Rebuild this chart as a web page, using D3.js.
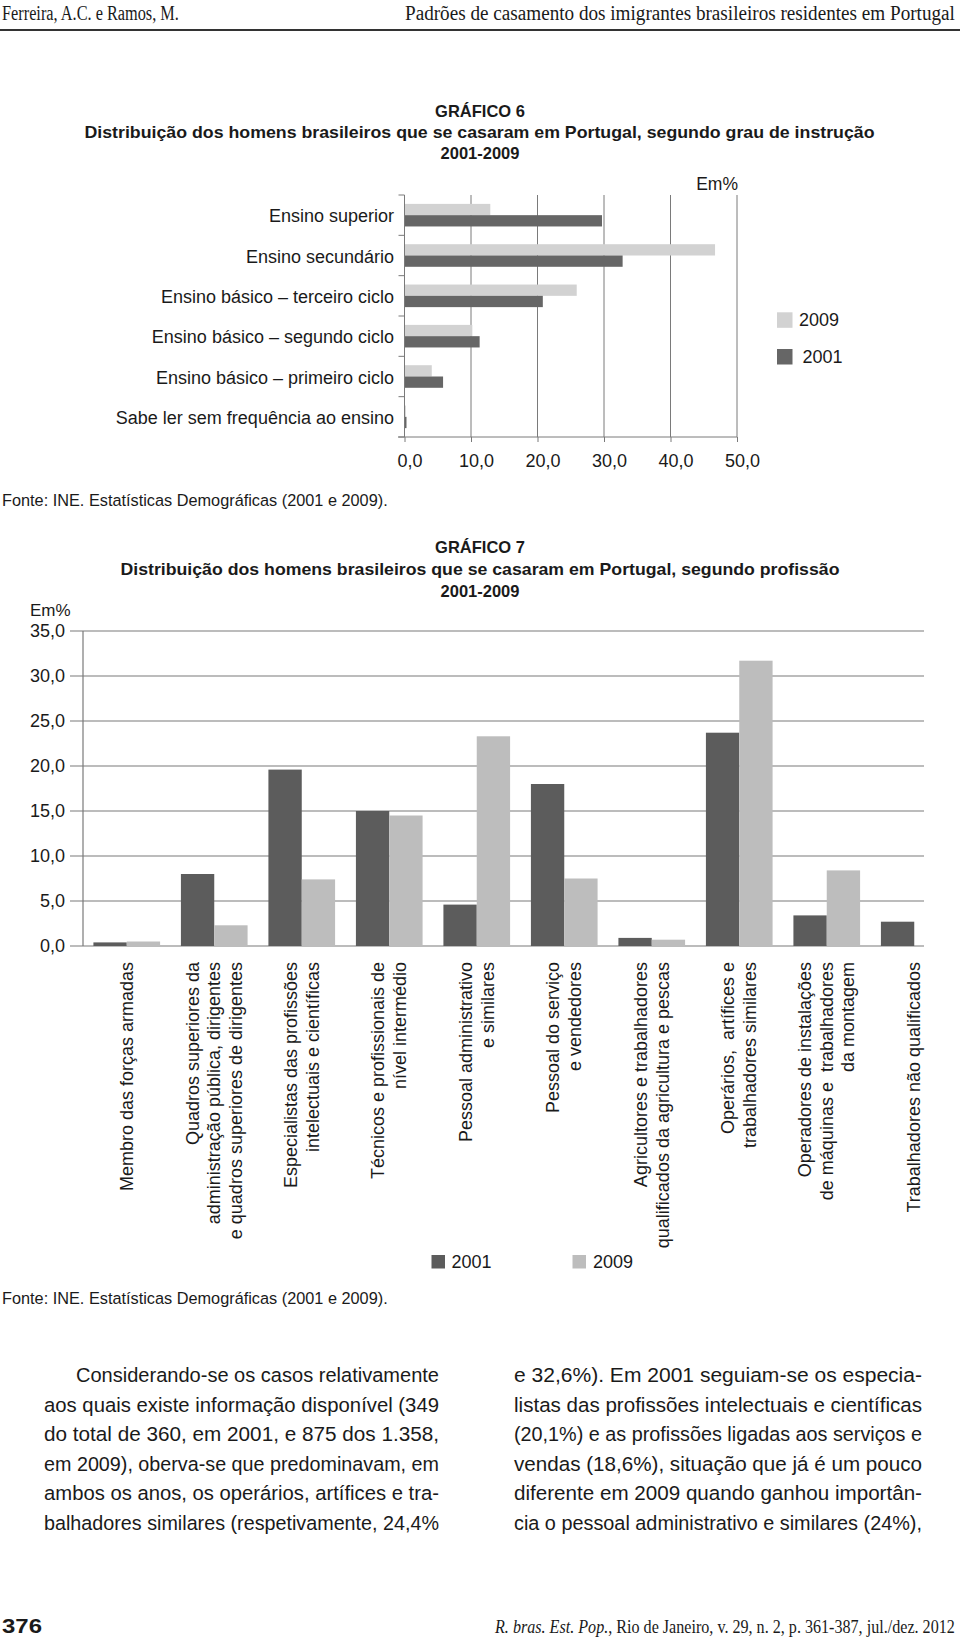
<!DOCTYPE html>
<html>
<head>
<meta charset="utf-8">
<script src="https://cdn.jsdelivr.net/npm/d3@7"></script>
<style>
  body { margin: 0; background: #fff; }
  svg text { font-family: "Liberation Sans", Arial, Helvetica, sans-serif; fill: #1a1a1a; }
  .serif { font-family: "Liberation Serif", "Times New Roman", serif; }
</style>
</head>
<body>
<svg id="page" width="960" height="1641"></svg>
<script>
// GRAFICO 6 - grau de instrucao
var eduCategories = ['Ensino superior', 'Ensino secundário', 'Ensino básico – terceiro ciclo',
    'Ensino básico – segundo ciclo', 'Ensino básico – primeiro ciclo', 'Sabe ler sem frequência ao ensino'];
var edu2009 = [12.9, 46.7, 25.9, 10.2, 4.1, 0.2];
var edu2001 = [29.7, 32.8, 20.8, 11.3, 5.8, 0.3];
var eduTicks = [0, 10, 20, 30, 40, 50];

// GRAFICO 7 - profissao (one entry per label line)
var profCategories = [
    ['Membro das forças armadas'],
    ['Quadros superiores da', 'administração pública, dirigentes', 'e quadros superiores de dirigentes'],
    ['Especialistas das profissões', 'intelectuais e científicas'],
    ['Técnicos e profissionais de', 'nível intermédio'],
    ['Pessoal administrativo', 'e similares'],
    ['Pessoal do serviço', 'e vendedores'],
    ['Agricultores e trabalhadores', 'qualificados da agricultura e pescas'],
    ['Operários,  artífices e', 'trabalhadores similares'],
    ['Operadores de instalações', 'de máquinas e  trabalhadores', 'da montagem'],
    ['Trabalhadores não qualificados']
];
var prof2001 = [0.4, 8.0, 19.6, 15.0, 4.6, 18.0, 0.9, 23.7, 3.4, 2.7];
var prof2009 = [0.5, 2.3, 7.4, 14.5, 23.3, 7.5, 0.7, 31.7, 8.4, null];
var profTicks = [0, 5, 10, 15, 20, 25, 30, 35];

var years = ['2001', '2009'];

var paraLeft = [
    'Considerando-se os casos relativamente',
    'aos quais existe informação disponível (349',
    'do total de 360, em 2001, e 875 dos 1.358,',
    'em 2009), oberva-se que predominavam, em',
    'ambos os anos, os operários, artífices e tra-',
    'balhadores similares (respetivamente, 24,4%'
];
var paraRight = [
    'e 32,6%). Em 2001 seguiam-se os especia-',
    'listas das profissões intelectuais e científicas',
    '(20,1%) e as profissões ligadas aos serviços e',
    'vendas (18,6%), situação que já é um pouco',
    'diferente em 2009 quando ganhou importân-',
    'cia o pessoal administrativo e similares (24%),'
];

var fmt = function(d){ return d3.format('.1f')(d).replace('.', ','); };
var colors6 = {'2009': '#d2d2d2', '2001': '#666666'};
var colors7 = {'2001': '#5c5c5c', '2009': '#bdbdbd'};
var gridColor = '#7a7a7a';

var svg = d3.select('#page');
svg.append('rect').attr('width', 960).attr('height', 1641).attr('fill', '#fff');

// squeeze a start-anchored text horizontally so it spans [x, x + width]
function fit(t, x, y, width){
    var w = t.node().getComputedTextLength();
    t.attr('x', 0).attr('y', 0)
        .attr('transform', 'translate(' + x + ',' + y + ') scale(' + (width / w) + ',1)');
    return t;
}

// page header
fit(svg.append('text').attr('class', 'serif').attr('font-size', 20)
    .text('Ferreira, A.C. e Ramos, M.'), 2, 20, 177);
fit(svg.append('text').attr('class', 'serif').attr('font-size', 20)
    .text('Padrões de casamento dos imigrantes brasileiros residentes em Portugal'), 405, 20, 550);
svg.append('line')
    .attr('x1', 0).attr('x2', 960).attr('y1', 30).attr('y2', 30)
    .attr('stroke', '#333').attr('stroke-width', 2);

function title(lines, ys, widths){
    lines.forEach(function(t, i){
        var el = svg.append('text')
            .attr('font-size', 16.5).attr('font-weight', 'bold')
            .text(t);
        if(widths[i]){
            fit(el, 480 - widths[i] / 2, ys[i], widths[i]);
        } else {
            el.attr('x', 480).attr('y', ys[i]).style('text-anchor', 'middle');
        }
    });
}

function fonte(y){
    fit(svg.append('text').attr('font-size', 17)
        .text('Fonte: INE. Estatísticas Demográficas (2001 e 2009).'), 2, y, 386);
}

// ---------- GRAFICO 6 ----------
title(['GRÁFICO 6',
    'Distribuição dos homens brasileiros que se casaram em Portugal, segundo grau de instrução',
    '2001-2009'], [117, 138, 159], [0, 791, 0]);

var x6 = d3.scaleLinear().domain([0, 50]).range([404.5, 737]);
var y6 = d3.scaleBand().domain(eduCategories).range([195, 437])
    .paddingInner(0.44).paddingOuter(0.22);
var sub6 = d3.scaleBand().domain(['2009', '2001']).range([0, y6.bandwidth()]);

var g6 = svg.append('g');

// vertical gridlines
g6.selectAll('.grid6').data(eduTicks.slice(1)).enter()
    .append('line')
        .attr('x1', function(d){ return x6(d); }).attr('x2', function(d){ return x6(d); })
        .attr('y1', 195).attr('y2', 437)
        .attr('stroke', gridColor).attr('stroke-width', 1);

var edu = eduCategories.map(function(c, i){
    return {cat: c, values: [{year: '2009', v: edu2009[i]}, {year: '2001', v: edu2001[i]}]};
});
g6.selectAll('.cat6').data(edu).enter()
    .append('g')
        .attr('transform', function(d){ return 'translate(0,' + y6(d.cat) + ')'; })
    .selectAll('rect').data(function(d){ return d.values; }).enter()
    .append('rect')
        .attr('x', x6(0))
        .attr('y', function(d){ return sub6(d.year); })
        .attr('width', function(d){ return x6(d.v) - x6(0); })
        .attr('height', sub6.bandwidth())
        .attr('fill', function(d){ return colors6[d.year]; });

// x axis with ticks below
var ax6 = g6.append('g')
    .attr('transform', 'translate(0,437)')
    .call(d3.axisBottom(x6).tickValues(eduTicks).tickSize(5).tickSizeOuter(0).tickFormat(fmt));
ax6.select('.domain').remove();
ax6.selectAll('.tick line').attr('stroke', gridColor);
ax6.selectAll('.tick text')
    .attr('font-size', 18).attr('dx', 5).attr('y', 17)
    .attr('fill', '#1a1a1a').style('font-family', '"Liberation Sans", Arial, sans-serif');
g6.append('line')
    .attr('x1', 398).attr('x2', x6(50)).attr('y1', 437).attr('y2', 437)
    .attr('stroke', gridColor);

// y axis with category boundary ticks
g6.append('line')
    .attr('x1', x6(0)).attr('x2', x6(0)).attr('y1', 195).attr('y2', 437)
    .attr('stroke', gridColor);
var bounds6 = d3.range(eduCategories.length + 1).map(function(i){ return 195 + i * y6.step(); });
g6.selectAll('.btick').data(bounds6).enter()
    .append('line')
        .attr('x1', x6(0) - 6).attr('x2', x6(0))
        .attr('y1', function(d){ return d; }).attr('y2', function(d){ return d; })
        .attr('stroke', gridColor);

g6.selectAll('.lab6').data(eduCategories).enter()
    .append('text')
        .attr('x', 394)
        .attr('y', function(d){ return y6(d) + y6.bandwidth() / 2 + 1; })
        .attr('font-size', 18)
        .attr('dominant-baseline', 'central')
        .style('text-anchor', 'end')
        .text(function(d){ return d; });

svg.append('text')
    .attr('x', 738).attr('y', 190).attr('font-size', 17.5)
    .style('text-anchor', 'end').text('Em%');

// legend 6
var leg6 = svg.append('g');
[['2009', 312.3, 799], ['2001', 349, 802.5]].forEach(function(l){
    leg6.append('rect')
        .attr('x', 777).attr('y', l[1]).attr('width', 15.5).attr('height', 15.5)
        .attr('fill', colors6[l[0]]);
    leg6.append('text')
        .attr('x', l[2]).attr('y', l[1] + 8).attr('font-size', 18)
        .attr('dominant-baseline', 'central').text(l[0]);
});

fonte(506);

// ---------- GRAFICO 7 ----------
title(['GRÁFICO 7',
    'Distribuição dos homens brasileiros que se casaram em Portugal, segundo profissão',
    '2001-2009'], [553, 575, 597], [0, 719, 0]);

var y7 = d3.scaleLinear().domain([0, 35]).range([946, 631]);
var x7 = d3.scaleBand().domain(d3.range(profCategories.length)).range([83, 958])
    .paddingInner(0.238).paddingOuter(0.119);
var sub7 = d3.scaleBand().domain(years).range([0, x7.bandwidth()]);

var g7 = svg.append('g');

g7.selectAll('.grid7').data(profTicks).enter()
    .append('line')
        .attr('x1', 70).attr('x2', 924)
        .attr('y1', function(d){ return y7(d); }).attr('y2', function(d){ return y7(d); })
        .attr('stroke', gridColor).attr('stroke-width', 1.2);

g7.append('line')
    .attr('x1', 83).attr('x2', 83).attr('y1', y7(35)).attr('y2', y7(0))
    .attr('stroke', gridColor).attr('stroke-width', 1.2);

g7.selectAll('.tlab7').data(profTicks).enter()
    .append('text')
        .attr('x', 65)
        .attr('y', function(d){ return y7(d); })
        .attr('font-size', 18)
        .attr('dominant-baseline', 'central')
        .style('text-anchor', 'end')
        .text(fmt);

svg.append('text')
    .attr('x', 30).attr('y', 616).attr('font-size', 17).text('Em%');

var prof = profCategories.map(function(c, i){
    return {i: i, values: [{year: '2001', v: prof2001[i]}, {year: '2009', v: prof2009[i]}]
        .filter(function(d){ return d.v != null; })};
});
g7.selectAll('.cat7').data(prof).enter()
    .append('g')
        .attr('transform', function(d){ return 'translate(' + x7(d.i) + ',0)'; })
    .selectAll('rect').data(function(d){ return d.values; }).enter()
    .append('rect')
        .attr('x', function(d){ return sub7(d.year); })
        .attr('y', function(d){ return y7(d.v); })
        .attr('width', sub7.bandwidth())
        .attr('height', function(d){ return y7(0) - y7(d.v); })
        .attr('fill', function(d){ return colors7[d.year]; });

// rotated category labels, top aligned
var lineGap = 21.7;
var labs7 = g7.selectAll('.lab7').data(profCategories).enter()
    .append('text')
        .attr('transform', function(d, i){
            return 'translate(' + (x7(i) + x7.bandwidth() / 2) + ',962) rotate(-90)';
        })
        .attr('font-size', 18)
        .style('text-anchor', 'end');
labs7.selectAll('tspan').data(function(d){
        return d.map(function(t, j){ return {t: t, off: (j - (d.length - 1) / 2) * lineGap}; });
    }).enter()
    .append('tspan')
        .attr('x', 0)
        .attr('y', function(d){ return d.off; })
        .attr('dominant-baseline', 'central')
        .style('white-space', 'pre')
        .text(function(d){ return d.t; });

// legend 7
[['2001', 431.5, 451.5], ['2009', 572.5, 593]].forEach(function(l){
    svg.append('rect')
        .attr('x', l[1]).attr('y', 1255).attr('width', 13.5).attr('height', 13.5)
        .attr('fill', colors7[l[0]]);
    svg.append('text')
        .attr('x', l[2]).attr('y', 1262).attr('font-size', 18)
        .attr('dominant-baseline', 'central').text(l[0]);
});

fonte(1304);

// ---------- body text ----------
var paraY = [1382, 1411.5, 1441, 1470.5, 1500, 1529.5];
function column(lines, x0, x1, indent){
    lines.forEach(function(t, i){
        var xs = x0 + (i === 0 ? indent : 0);
        svg.append('text')
            .attr('x', xs).attr('y', paraY[i]).attr('font-size', 20.5)
            .attr('textLength', x1 - xs).attr('lengthAdjust', 'spacingAndGlyphs')
            .text(t);
    });
}
column(paraLeft, 44, 439, 32);
column(paraRight, 514, 922, 0);

// page footer
fit(svg.append('text').attr('font-size', 21).attr('font-weight', 'bold').text('376'), 2, 1633, 40);
var foot = svg.append('text').attr('class', 'serif').attr('font-size', 19);
foot.append('tspan').attr('font-style', 'italic').text('R. bras. Est. Pop.');
foot.append('tspan').text(', Rio de Janeiro, v. 29, n. 2, p. 361-387, jul./dez. 2012');
fit(foot, 495, 1633, 460);
</script>
</body>
</html>
